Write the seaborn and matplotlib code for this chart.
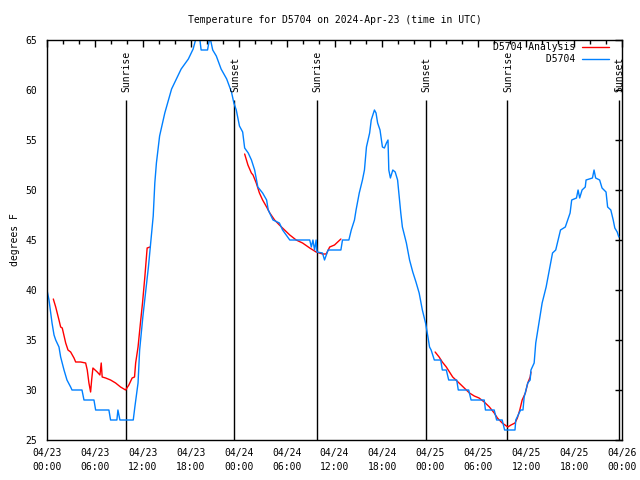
import numpy as np
import pandas as pd
import matplotlib
matplotlib.use("Agg")
import matplotlib.pyplot as plt
import seaborn as sns
from matplotlib.lines import Line2D
from matplotlib.ticker import MultipleLocator

# ---------------- data (hours since 2024-04-23 00:00 UTC) ----------------
obs_hours = [0, 0.25, 0.46, 0.63, 0.88, 1.09, 1.5, 1.71, 2.13, 2.5, 2.96, 3.13, 4.38, 4.63,
             5.88, 6.09, 7.75, 7.96, 8.75, 8.88, 9.13, 10.8, 11.0, 11.4, 11.6, 12.0, 12.7,
             13.1, 13.3, 13.5, 13.7, 14.1, 14.75, 15.6, 16.2, 16.8, 17.7, 18.3, 18.7, 19.1,
             19.3, 20.1, 20.4, 20.75, 21.2, 21.8, 22.5, 23.1, 23.4, 23.7, 24.1, 24.5, 24.75,
             25.2, 25.6, 26.0, 26.4, 27.0, 27.5, 27.7, 28.3, 29.1, 29.5, 30.4, 32.9, 33.1,
             33.3, 33.5, 33.7, 33.8, 34.5, 34.75, 35.2, 36.8, 37.0, 37.8, 38.1, 38.5, 38.7,
             39.1, 39.5, 39.75, 40.0, 40.4, 40.6, 41.0, 41.2, 41.4, 41.7, 42.0, 42.25, 42.5,
             42.7, 42.8, 43.0, 43.3, 43.6, 43.9, 44.1, 44.3, 44.5, 45.0, 45.4, 45.8, 46.2,
             46.6, 47.0, 47.4, 47.7, 47.9, 48.1, 48.5, 49.3, 49.5, 50.0, 50.3, 51.3, 51.5,
             52.8, 53.1, 54.75, 54.9, 56.0, 56.3, 57.0, 57.3, 58.6, 58.7, 59.0, 59.3, 59.6,
             59.75, 60.2, 60.5, 60.6, 61.0, 61.2, 61.6, 62.0, 62.5, 62.9, 63.3, 63.7, 64.0,
             64.3, 64.9, 65.2, 65.5, 65.7, 66.3, 66.5, 66.7, 67.0, 67.4, 67.5, 68.3, 68.5,
             68.7, 69.2, 69.5, 70.0, 70.2, 70.6, 70.9, 71.1, 71.4, 71.6]
obs_temp = [40, 39, 37.7, 36.7, 35.5, 35, 34.3, 33.3, 32, 31, 30.3, 30, 30, 29,
            29, 28, 28, 27, 27, 28, 27, 27, 28.3, 30.7, 34, 37.3, 42.3,
            45.7, 47.4, 50.7, 52.7, 55.4, 57.7, 60.1, 61.1, 62.1, 63.1, 64.1, 65.3, 65.3,
            64, 64, 65.3, 64, 63.4, 62.1, 61.1, 59.8, 58.7, 58, 56.4, 55.8, 54.2,
            53.7, 53, 52, 50.3, 49.7, 49, 48, 47, 46.7, 46, 45, 45, 44.3,
            45, 44, 45, 43.8, 43.7, 43, 44, 44, 45, 45, 46, 47, 48,
            49.7, 51, 52, 54.3, 55.7, 57, 58, 57.7, 56.7, 56, 54.3, 54.2, 54.7,
            55, 52, 51.2, 52, 51.8, 51, 49.3, 47.7, 46.3, 44.7, 43, 41.8, 40.8,
            39.7, 38, 36.7, 35.3, 34.3, 34, 33, 33, 32, 32, 31, 31, 30,
            30, 29, 29, 28, 28, 27, 27, 26, 26, 27, 27.5, 28, 28,
            29.3, 30.7, 31, 32, 32.7, 34.7, 36.7, 38.7, 40.3, 42, 43.7, 44, 45,
            46, 46.3, 47, 47.7, 49, 49.2, 50, 49.2, 50, 50.3, 51, 51.2, 52,
            51.2, 51, 50.2, 49.8, 48.3, 48, 47, 46.2, 45.8, 45.3]

ana1_hours = [0.79, 1.09, 1.5, 1.71, 1.91, 2.34, 2.63, 2.96, 3.38, 3.59, 4.21, 4.84, 5.04,
              5.25, 5.46, 5.59, 5.75, 6.29, 6.63, 6.79, 6.91, 7.34, 7.96, 8.59, 9.21, 9.84,
              10.25, 10.66, 10.96, 11.1, 11.4, 11.7, 11.96, 12.25, 12.54, 12.9]
ana1_temp = [39.1, 38.3, 37, 36.3, 36.2, 34.7, 34, 33.8, 33.2, 32.8, 32.8, 32.7, 32,
             30.7, 29.8, 31, 32.2, 31.8, 31.5, 32.7, 31.3, 31.2, 31, 30.7, 30.3, 30,
             30.5, 31.2, 31.3, 32.7, 34.3, 36.7, 38.7, 41.3, 44.2, 44.3]
ana2_hours = [24.75, 25.16, 25.59, 25.8, 26.2, 26.6, 27.0, 27.5, 27.9, 28.5, 29.1, 29.75,
              30.4, 31.2, 32.0, 32.9, 33.7, 34.5, 34.96, 35.4, 36.0, 36.8]
ana2_temp = [53.6, 52.5, 51.7, 51.5, 50.7, 49.7, 49, 48.3, 47.7, 47, 46.5, 46,
             45.5, 45, 44.7, 44.2, 43.8, 43.6, 43.6, 44.3, 44.5, 45.1]
ana3_hours = [48.6, 49.1, 49.5, 50.0, 50.4, 50.8, 51.2, 51.6, 52.25, 52.9, 53.5, 54.1,
              54.75, 55.4, 56.0, 56.4, 57.0, 57.7, 58.1, 58.6, 58.9, 59.2, 59.5, 59.9,
              60.2, 60.5, 60.6]
ana3_temp = [33.8, 33.3, 32.8, 32.3, 31.8, 31.3, 31, 30.7, 30.2, 29.7, 29.4, 29.2,
             28.8, 28.3, 27.7, 27.2, 26.7, 26.3, 26.5, 26.7, 27.2, 28, 29, 29.7,
             30.7, 31.3, 31.8]

sun_hours = [9.83, 23.45, 33.8, 47.46, 57.66, 71.6]
sun_labels = ["Sunrise", "Sunset", "Sunrise", "Sunset", "Sunrise", "Sunset"]

tick_hours = [0, 6, 12, 18, 24, 30, 36, 42, 48, 54, 60, 66, 72]
tick_labels = ["04/23\n00:00", "04/23\n06:00", "04/23\n12:00", "04/23\n18:00",
               "04/24\n00:00", "04/24\n06:00", "04/24\n12:00", "04/24\n18:00",
               "04/25\n00:00", "04/25\n06:00", "04/25\n12:00", "04/25\n18:00",
               "04/26\n00:00"]
y_ticks = [25, 30, 35, 40, 45, 50, 55, 60, 65]

title = "Temperature for D5704 on 2024-Apr-23 (time in UTC)"
series_names = ["D5704 Analysis", "D5704"]

# ---------------- build tables ----------------
obs_df = pd.DataFrame({"hours": obs_hours, "temp": obs_temp})
ana_df = pd.concat([
    pd.DataFrame({"hours": ana1_hours, "temp": ana1_temp, "seg": 1}),
    pd.DataFrame({"hours": ana2_hours, "temp": ana2_temp, "seg": 2}),
    pd.DataFrame({"hours": ana3_hours, "temp": ana3_temp, "seg": 3}),
], ignore_index=True)

# ---------------- style ----------------
sns.set_theme(style="white")
FONT = ["DejaVu Sans Mono", "DejaVu Sans"]
plt.rcParams["font.family"] = FONT
plt.rcParams["font.size"] = 7
plt.rcParams["text.color"] = "black"
plt.rcParams["axes.labelcolor"] = "black"
plt.rcParams["xtick.color"] = "black"
plt.rcParams["ytick.color"] = "black"

RED = "#ff0000"
BLUE = "#0080ff"

fig = plt.figure(figsize=(6.4, 4.8), dpi=100)
ax = fig.add_axes([47 / 640, 40 / 480, 575 / 640, 400 / 480])

sns.lineplot(data=ana_df, x="hours", y="temp", units="seg", estimator=None,
             color=RED, linewidth=1.0, ax=ax, legend=False, sort=False)
sns.lineplot(data=obs_df, x="hours", y="temp", estimator=None,
             color=BLUE, linewidth=1.0, ax=ax, legend=False, sort=False)

ax.vlines(sun_hours, 25, 59, color="black", linewidth=1.0, zorder=1)
for h, lab in zip(sun_hours, sun_labels):
    ax.text(h + 0.1, 59.8, lab, rotation=90, ha="center", va="bottom", fontsize=7)

ax.set_xlim(0, 72)
ax.set_ylim(25, 65)
ax.set_xticks(tick_hours)
ax.set_xticklabels(tick_labels, linespacing=1.45)
ax.xaxis.set_minor_locator(MultipleLocator(2))
ax.set_yticks(y_ticks)
ax.set_yticklabels([str(v) for v in y_ticks])
ax.tick_params(axis="both", which="major", direction="in", length=5, width=1,
               top=True, right=True, labelsize=7)
ax.tick_params(axis="both", which="minor", direction="in", length=3, width=1,
               top=True, right=True)
ax.tick_params(axis="x", which="major", pad=6)
ax.tick_params(axis="y", which="major", pad=7)
ax.set_xlabel("")
ax.set_ylabel("degrees F", fontsize=7, labelpad=4)
for sp in ax.spines.values():
    sp.set_color("black")
    sp.set_linewidth(1.0)
    sp.set_visible(True)

ax.set_title(title, fontsize=7, pad=12)

handles = [Line2D([], [], color=RED, linewidth=1.0),
           Line2D([], [], color=BLUE, linewidth=1.0)]
width = max(len(n) for n in series_names)
labels = [n.rjust(width) for n in series_names]
ax.legend(handles, labels, loc="upper right", frameon=False, markerfirst=False,
          bbox_to_anchor=((609 - 47) / 575, (440 - 42) / 400),
          borderpad=0, borderaxespad=0, handlelength=2.8, handletextpad=0.7,
          labelspacing=0.25, fontsize=7,
          prop={"family": FONT, "size": 7})

fig.savefig("out.png", dpi=100)
